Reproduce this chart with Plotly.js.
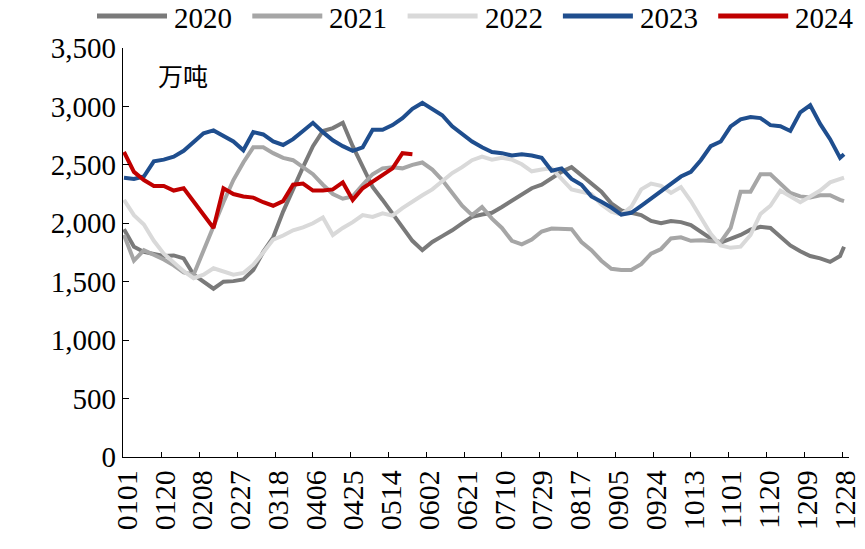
<!DOCTYPE html>
<html>
<head>
<meta charset="utf-8">
<script src="https://cdn.plot.ly/plotly-3.0.1.min.js"></script>
<style>
  html, body { margin: 0; padding: 0; background: #fff; }
  #chart { width: 865px; height: 549px; }
</style>
</head>
<body>
<div id="chart"></div>
<script>
/* -------------------- DATA -------------------- */

// sample dates (MMDD), read every 5 days off the picture
const dates = [
  '0101','0106','0111','0116','0121','0126','0131','0205','0210','0215',
  '0220','0225','0302','0307','0312','0317','0322','0327','0401','0406',
  '0411','0416','0421','0426','0501','0506','0511','0516','0521','0526',
  '0531','0605','0610','0615','0620','0625','0630','0705','0710','0715',
  '0720','0725','0730','0804','0809','0814','0819','0824','0829','0903',
  '0908','0913','0918','0923','0928','1003','1008','1013','1018','1023',
  '1028','1102','1107','1112','1117','1122','1127','1202','1207','1212',
  '1217','1222','1227','1229'
];

const tickLabels = [
  '0101','0120','0208','0227','0318','0406','0425','0514','0602','0621',
  '0710','0729','0817','0905','0924','1013','1101','1120','1209','1228'
];

const y2020 = [
  1950,1800,1755,1735,1720,1725,1700,1560,1495,1440,
  1500,1505,1520,1600,1755,1880,2100,2300,2480,2660,
  2790,2815,2860,2660,2480,2310,2200,2080,1970,1850,
  1770,1840,1890,1940,2000,2055,2075,2090,2140,2195,
  2240,2300,2330,2385,2440,2480,2410,2330,2270,2170,
  2110,2090,2070,2020,2000,2020,2010,1985,1930,1870,
  1835,1870,1900,1945,1970,1960,1890,1810,1760,1720,
  1700,1670,1720,1800
];

const y2021 = [
  1900,1680,1770,1730,1690,1640,1580,1560,1770,1980,
  2180,2370,2520,2650,2650,2600,2560,2540,2480,2420,
  2330,2250,2210,2230,2330,2420,2470,2480,2470,2500,
  2520,2460,2370,2260,2150,2070,2140,2040,1960,1850,
  1820,1860,1930,1955,1950,1950,1840,1770,1680,1610,
  1600,1600,1650,1740,1780,1870,1880,1850,1855,1845,
  1840,1960,2270,2270,2420,2420,2340,2260,2230,2220,
  2240,2240,2200,2190
];

const y2022 = [
  2200,2070,1990,1850,1740,1660,1590,1530,1560,1615,
  1585,1560,1575,1645,1750,1860,1895,1940,1965,2000,
  2050,1900,1960,2010,2070,2055,2085,2065,2130,2190,
  2240,2290,2360,2430,2480,2540,2570,2545,2560,2545,
  2505,2445,2460,2470,2380,2290,2270,2250,2160,2100,
  2075,2140,2290,2340,2320,2260,2310,2190,2050,1910,
  1810,1790,1800,1900,2080,2150,2280,2230,2180,2230,
  2280,2350,2380,2390
];

const y2023 = [
  2390,2380,2400,2530,2545,2570,2620,2700,2770,2795,
  2745,2700,2625,2780,2760,2700,2670,2720,2790,2860,
  2780,2710,2660,2620,2650,2800,2800,2840,2900,2980,
  3030,2980,2925,2830,2760,2700,2650,2610,2600,2580,
  2590,2580,2560,2450,2470,2380,2330,2230,2185,2135,
  2075,2090,2150,2210,2270,2340,2400,2440,2540,2660,
  2700,2830,2890,2910,2900,2840,2830,2790,2950,3010,
  2850,2720,2560,2590
];

// 2024 only runs to late May
const y2024 = [
  2610,2440,2370,2320,2320,2280,2300,2190,2080,1960,
  2300,2250,2230,2220,2180,2150,2190,2330,2340,2280,
  2280,2290,2350,2200,2300,2360,2420,2470,2600,2590
];

const years = ['2020', '2021', '2022', '2023', '2024'];
const seriesValues = [y2020, y2021, y2022, y2023, y2024];
const colors = ['#7a7a7a', '#a6a6a6', '#d9d9d9', '#1f4e8e', '#c00000'];

/* -------------------- AXIS CATEGORIES -------------------- */

// every day of a 365-day year, so the sample dates land in the right slot
const monthDays = [31, 28, 31, 30, 31, 30, 31, 31, 30, 31, 30, 31];
const allDays = [];
monthDays.forEach((n, m) => {
  for (let d = 1; d <= n; d++) {
    allDays.push(String(m + 1).padStart(2, '0') + String(d).padStart(2, '0'));
  }
});

/* -------------------- LEGEND -------------------- */

// plotly's legend swatch is too short, so draw the legend row by hand
const serif = 'Liberation Serif, Times New Roman, serif';
const plotL = 123, plotW = 726, plotB = 457, plotH = 409;
const px = v => (v - plotL) / plotW;
const py = v => (plotB - v) / plotH;

const legendShapes = years.map((yr, i) => ({
  type: 'line', xref: 'paper', yref: 'paper',
  x0: px(97 + 155.3 * i), x1: px(167 + 155.3 * i),
  y0: py(16), y1: py(16),
  line: { color: colors[i], width: 5 }
}));

const legendTexts = years.map((yr, i) => ({
  text: yr, xref: 'paper', yref: 'paper',
  x: px(172 + 155.3 * i), y: py(18),
  xanchor: 'left', yanchor: 'middle',
  showarrow: false,
  font: { family: serif, size: 29, color: '#000' }
}));

/* -------------------- PLOT -------------------- */

const traces = years.map((yr, i) => ({
  x: dates.slice(0, seriesValues[i].length),
  y: seriesValues[i],
  name: yr,
  mode: 'lines',
  line: { color: colors[i], width: 4 }
}));

const layout = {
  width: 865,
  height: 549,
  margin: { l: plotL, r: 865 - plotL - plotW, t: plotB - plotH, b: 549 - plotB },
  paper_bgcolor: '#fff',
  plot_bgcolor: '#fff',
  showlegend: false,
  xaxis: {
    type: 'category',
    categoryorder: 'array',
    categoryarray: allDays,
    range: [-0.5, allDays.length - 0.5],
    tickmode: 'array',
    tickvals: tickLabels,
    ticktext: tickLabels,
    tickangle: -90,
    ticklabelshift: 3,
    ticks: 'inside',
    ticklen: 5,
    tickcolor: '#000',
    showline: true,
    linecolor: '#000',
    linewidth: 1.2,
    showgrid: false,
    zeroline: false,
    automargin: false,
    tickfont: { family: serif, size: 30, color: '#000' }
  },
  yaxis: {
    range: [0, 3500],
    dtick: 500,
    tickformat: ',d',
    ticks: 'inside',
    ticklen: 6,
    tickcolor: '#000',
    showline: true,
    linecolor: '#000',
    linewidth: 1.2,
    showgrid: false,
    zeroline: false,
    automargin: false,
    tickfont: { family: serif, size: 29, color: '#000' }
  },
  shapes: legendShapes,
  annotations: legendTexts.concat([{
    text: '万吨',
    xref: 'paper', yref: 'paper',
    x: px(156), y: py(75),
    xanchor: 'left', yanchor: 'middle',
    showarrow: false,
    font: { family: 'Noto Sans CJK SC', size: 25, color: '#000' }
  }])
};

Plotly.newPlot('chart', traces, layout, { displayModeBar: false, staticPlot: true });
</script>
</body>
</html>
